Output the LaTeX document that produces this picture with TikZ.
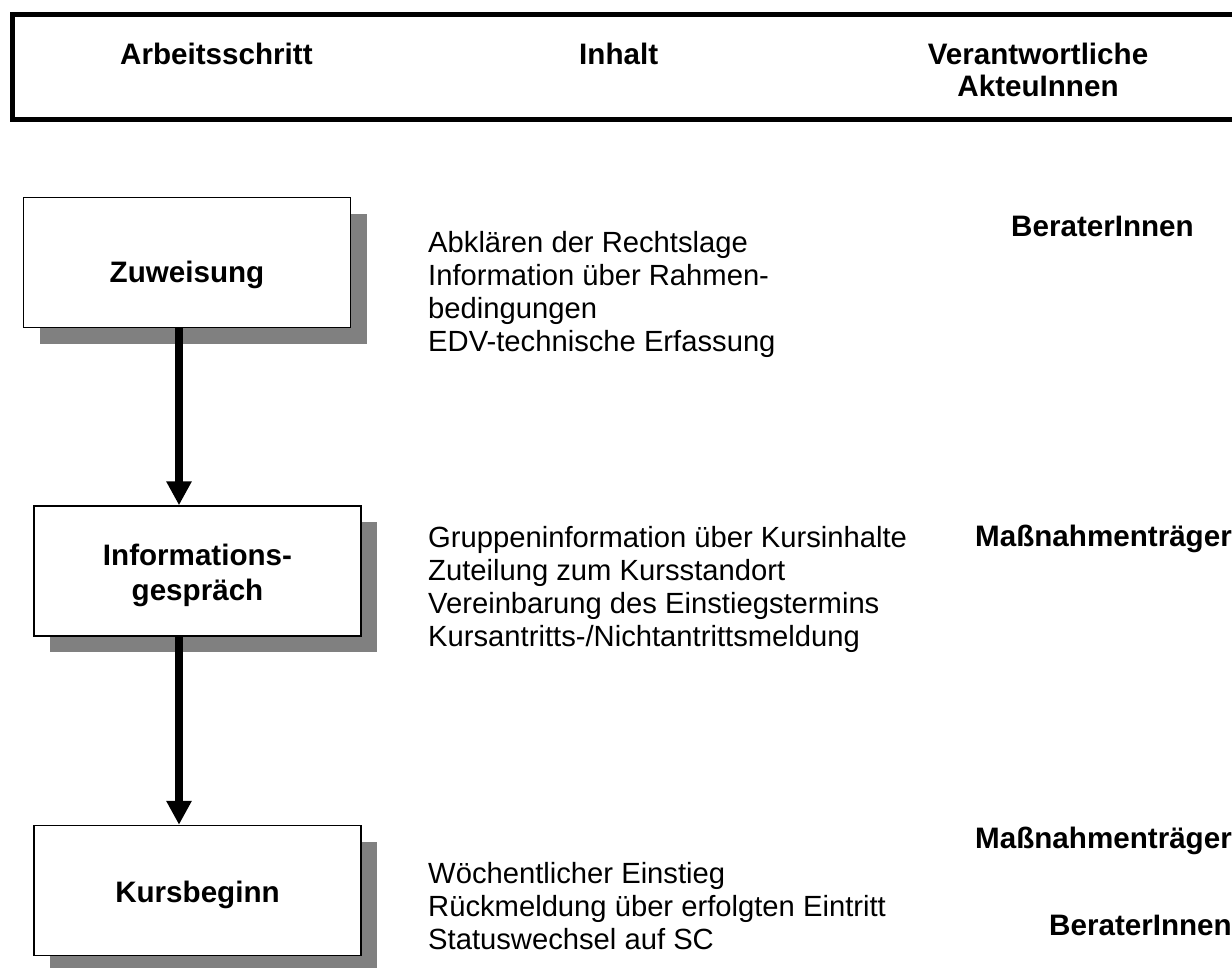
\documentclass[tikz,border=0pt]{standalone}
\usepackage{fontspec}
\setmainfont{Liberation Sans}
\usetikzlibrary{arrows.meta,shadows}
\definecolor{shadowgray}{HTML}{808080}
\begin{document}
\begin{tikzpicture}[x=1pt,y=-1pt,
  stepbox/.style={draw=black, line width=1.5pt, fill=white, inner sep=0pt,
    minimum width=327pt, minimum height=130pt,
    drop shadow={shadow xshift=16pt, shadow yshift=-16pt, fill=shadowgray, opacity=1, draw=none}},
  steptext/.style={inner sep=0pt, align=center, font=\fontsize{29.6}{35}\selectfont\bfseries},
  flowarrow/.style={line width=8pt, -{Triangle[length=24pt,width=24pt]}},
  headerline/.style={line width=5pt, line join=miter},
  headtext/.style={inner sep=0pt, font=\fontsize{29.6}{36}\selectfont\bfseries},
  content/.style={anchor=base west, inner sep=0pt, font=\fontsize{29.2}{33}\selectfont},
  actor/.style={anchor=base west, inner sep=0pt, font=\fontsize{29.6}{36}\selectfont\bfseries}]
\useasboundingbox (0,0) rectangle (1232,967);
% header frame
\coordinate (htr) at (1232,14);
\coordinate (htl) at (12,14);
\coordinate (hbl) at (12,119);
\coordinate (hbr) at (1232,119);
\draw[headerline] (htr) -- (htl) -- (hbl) -- (hbr);
\node[headtext, anchor=base west] (h1) at (120,64) {Arbeitsschritt};
\node[headtext, anchor=base west] (h2) at (579,64) {Inhalt};
\node[headtext, anchor=base] (h3a) at (1038,64) {Verantwortliche};
\node[headtext, anchor=base] (h3b) at (1038,96) {AkteuInnen};
% step boxes
\node[stepbox] (z) at (187,262.5) {};
\node[stepbox] (i) at (197.5,571) {};
\node[stepbox] (k) at (197.5,890.5) {};
\node[steptext] (zt) at ([yshift=-12pt]z.center) {Zuweisung};
\node[steptext] (it) at ([yshift=-4pt]i.center) {Informations-\\gespräch};
\node[steptext] (kt) at ([yshift=-4pt]k.center) {Kursbeginn};
% arrows
\coordinate (ax) at (179,0);
\draw[flowarrow] (z.south -| ax) -- (i.north -| ax);
\draw[flowarrow] (i.south -| ax) -- (k.north -| ax);
% contents
\foreach \t [count=\k] in {Abklären der Rechtslage, Information über Rahmen-, bedingungen, EDV-technische Erfassung}
  \node[content] (za\k) at (428,{252+33*(\k-1)}) {\t};
\foreach \t [count=\k] in {Gruppeninformation über Kursinhalte, Zuteilung zum Kursstandort, Vereinbarung des Einstiegstermins, Kursantritts-/Nichtantrittsmeldung}
  \node[content] (ia\k) at (428,{547+33*(\k-1)}) {\t};
\foreach \t [count=\k] in {Wöchentlicher Einstieg, Rückmeldung über erfolgten Eintritt, Statuswechsel auf SC}
  \node[content] (ka\k) at (428,{883+33*(\k-1)}) {\t};
% actors
\node[actor] (r1) at (1011,236) {BeraterInnen};
\node[actor] (r2) at (975,546) {Maßnahmenträger};
\node[actor] (r3) at (975,848) {Maßnahmenträger};
\node[actor] (r4) at (1049,935) {BeraterInnen};
\end{tikzpicture}
\end{document}
